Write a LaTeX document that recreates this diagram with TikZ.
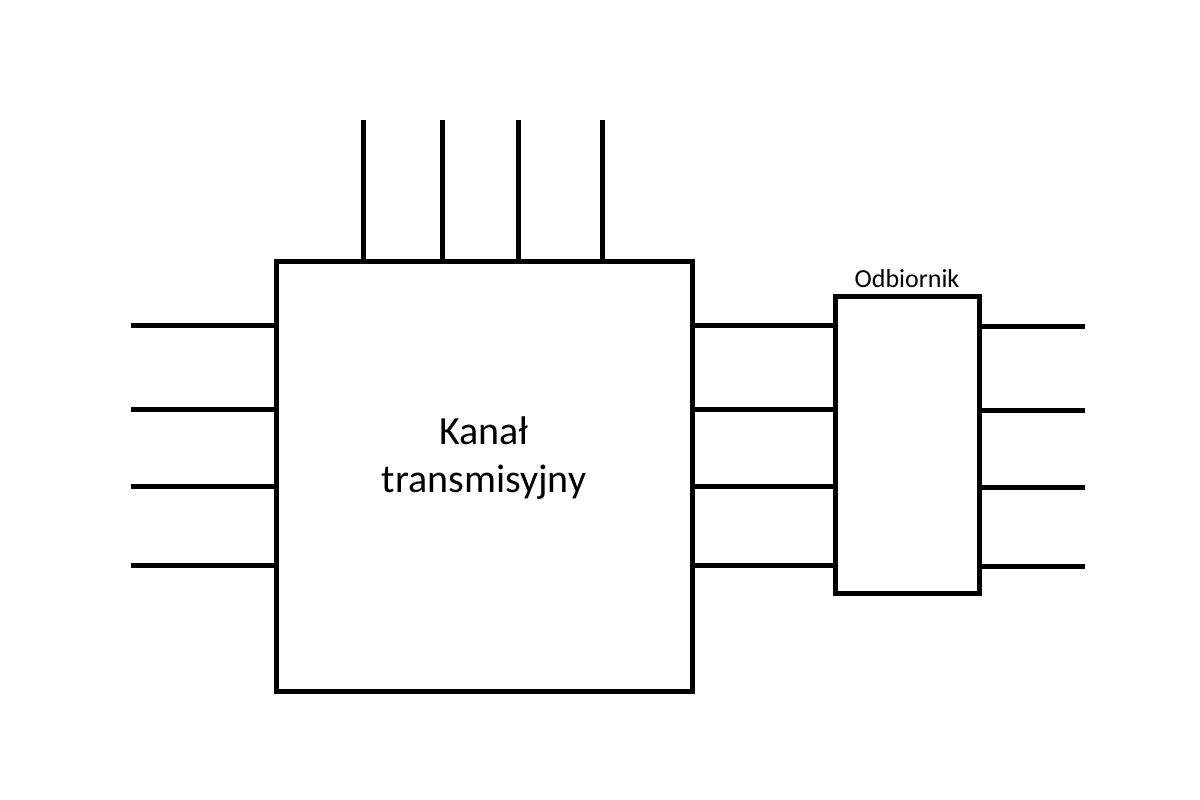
\documentclass[tikz,border=0pt]{standalone}
\usepackage{fontspec}
\setmainfont{Carlito}
\usepackage{tikz}
\usetikzlibrary{positioning}
\tikzset{
  blok/.style={draw=black,line width=5pt,fill=white,inner sep=0pt},
  przewod/.style={draw=black,line width=5pt},
  bigtext/.style={font=\fontsize{40}{48}\selectfont,align=center},
  smalltext/.style={font=\fontsize{26}{30}\selectfont}
}

\begin{document}
\begin{tikzpicture}[x=1pt,y=-1pt]
  \useasboundingbox (0,0) rectangle (1200,800);
  \node[blok,minimum width=416pt,minimum height=430pt] (kanal) at (484,476) {};
  \node[bigtext] (kanallabel) at (484,458) {Kanał\\transmisyjny};
  \node[blok,minimum width=144pt,minimum height=297pt] (odbiornik) at (907,444.5) {};
  \node[smalltext,above=2pt of odbiornik] (odbiorniklabel) {Odbiornik};
  % wejscia od gory
  \foreach \x [count=\i] in {363,442,518,602} {
    \coordinate (top\i) at (\x,120);
    \draw[przewod] (top\i) -- (top\i |- kanal.north);
  }
  % wejscia z lewej, polaczenia i wyjscia
  \foreach \y [count=\i] in {325,409,486,565} {
    \coordinate (in\i) at (131,\y);
    \coordinate (out\i) at (1085,\y+1);
    \draw[przewod] (in\i) -- (in\i -| kanal.west);
    \draw[przewod] (in\i -| kanal.east) -- (in\i -| odbiornik.west);
    \draw[przewod] (out\i -| odbiornik.east) -- (out\i);
  }
\end{tikzpicture}
\end{document}
